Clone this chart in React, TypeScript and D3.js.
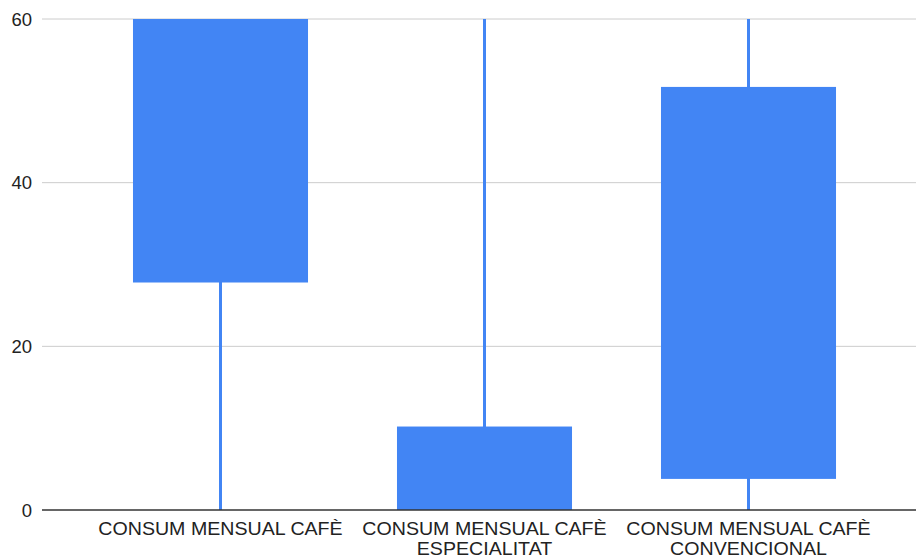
import React, { useEffect, useRef } from "react";
import * as d3 from "d3";

// Monthly coffee consumption, drawn as candlesticks (low / open / close / high)
const categories = [
  "CONSUM MENSUAL CAFÈ",
  "CONSUM MENSUAL CAFÈ ESPECIALITAT",
  "CONSUM MENSUAL CAFÈ CONVENCIONAL",
];
const lows = [0, 0, 0];
const opens = [27.8, 0, 3.8];
const closes = [60, 10.2, 51.7];
const highs = [60, 60, 60];
const yTicks = [0, 20, 40, 60];

const W = 916;
const H = 559;
const BLUE = "#4285f4";
const FONT = "Arial, 'Liberation Sans', sans-serif";

export default function App() {
  const ref = useRef<SVGSVGElement | null>(null);

  useEffect(() => {
    document.body.style.margin = "0";
    const svg = d3.select(ref.current);
    svg.selectAll("*").remove();

    const plotLeft = 42;
    const plotRight = 916;
    const plotTop = 19;
    const plotBottom = 510;

    const y = d3.scaleLinear().domain([0, 60]).range([plotBottom, plotTop]);
    const x = d3
      .scaleBand<string>()
      .domain(categories)
      .range([88.5, 880.5])
      .paddingInner(0.337)
      .paddingOuter(0.1685);

    const rows = categories.map((c, i) => ({
      c,
      low: lows[i],
      open: opens[i],
      close: closes[i],
      high: highs[i],
    }));

    // gridlines
    svg
      .append("g")
      .selectAll("line")
      .data(yTicks.filter((t) => t !== 0))
      .join("line")
      .attr("x1", plotLeft)
      .attr("x2", plotRight)
      .attr("y1", (d) => y(d))
      .attr("y2", (d) => y(d))
      .attr("stroke", "#cccccc")
      .attr("stroke-width", 1);

    // y tick labels
    svg
      .append("g")
      .selectAll("text")
      .data(yTicks)
      .join("text")
      .attr("x", 32)
      .attr("y", (d) => y(d) + 6.5)
      .attr("text-anchor", "end")
      .attr("font-family", FONT)
      .attr("font-size", 18.5)
      .attr("fill", "#222")
      .text((d) => String(d));

    const g = svg.append("g");
    // wicks
    g.selectAll("line.wick")
      .data(rows)
      .join("line")
      .attr("class", "wick")
      .attr("x1", (d) => (x(d.c) as number) + x.bandwidth() / 2)
      .attr("x2", (d) => (x(d.c) as number) + x.bandwidth() / 2)
      .attr("y1", (d) => y(d.low))
      .attr("y2", (d) => y(d.high))
      .attr("stroke", BLUE)
      .attr("stroke-width", 3);

    // bodies
    g.selectAll("rect.body")
      .data(rows)
      .join("rect")
      .attr("class", "body")
      .attr("x", (d) => x(d.c) as number)
      .attr("width", x.bandwidth())
      .attr("y", (d) => y(Math.max(d.open, d.close)))
      .attr("height", (d) => Math.abs(y(d.open) - y(d.close)))
      .attr("fill", BLUE);

    // baseline
    svg
      .append("line")
      .attr("x1", plotLeft)
      .attr("x2", plotRight)
      .attr("y1", plotBottom)
      .attr("y2", plotBottom)
      .attr("stroke", "#333")
      .attr("stroke-width", 1.5);

    // category labels, wrapped to the band step
    const canvas = document.createElement("canvas");
    const ctx = canvas.getContext("2d")!;
    const fs = 18;
    ctx.font = `${fs}px ${FONT}`;
    const maxW = x.step() * 0.95;
    const wrap = (s: string) => {
      const words = s.split(" ");
      const lines: string[] = [];
      let cur = "";
      for (const w of words) {
        const t = cur ? cur + " " + w : w;
        if (ctx.measureText(t).width * 1.09 > maxW && cur) {
          lines.push(cur);
          cur = w;
        } else cur = t;
      }
      if (cur) lines.push(cur);
      return lines;
    };

    const lab = svg.append("g");
    rows.forEach((d) => {
      const cx = (x(d.c) as number) + x.bandwidth() / 2;
      wrap(d.c).forEach((line, j) => {
        lab
          .append("text")
          .attr("transform", `translate(${cx},${534.7 + j * 20}) scale(1.09,1)`)
          .attr("text-anchor", "middle")
          .attr("font-family", FONT)
          .attr("font-size", fs)
          .attr("fill", "#222")
          .text(line);
      });
    });
  }, []);

  return (
    <svg
      ref={ref}
      width={W}
      height={H}
      style={{ display: "block", position: "absolute", left: 0, top: 0, background: "#fff" }}
    />
  );
}
